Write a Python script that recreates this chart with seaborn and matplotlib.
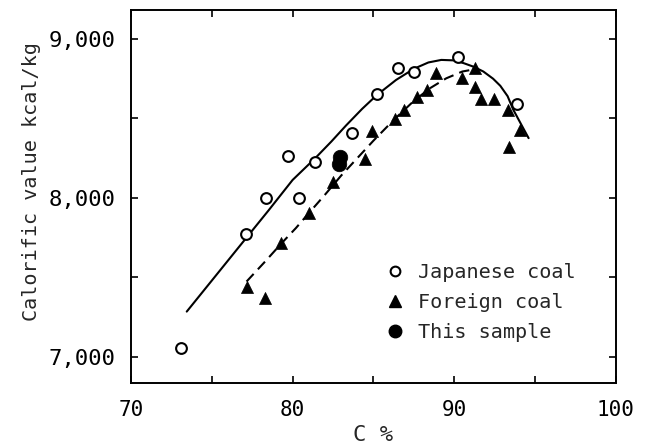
import matplotlib
matplotlib.use("Agg")
import matplotlib.pyplot as plt
import seaborn as sns
import pandas as pd
from matplotlib.ticker import FuncFormatter, MultipleLocator
from matplotlib.lines import Line2D

# Japanese coal (open circles)
jp_c = [73.1, 77.1, 78.35, 79.7, 80.4, 81.4, 83.65, 85.2, 86.5, 87.5, 90.25, 93.9]
jp_cal = [7054, 7772, 8000, 8266, 8000, 8228, 8407, 8652, 8820, 8794, 8889, 8589]

# Foreign coal (filled triangles)
fo_c = [77.15, 78.3, 79.3, 81.0, 82.5, 84.5, 84.9, 86.35, 86.9, 87.7, 88.3, 88.9,
        90.5, 91.3, 91.3, 91.65, 92.45, 93.3, 93.4, 94.05]
fo_cal = [7442, 7369, 7719, 7904, 8103, 8243, 8421, 8497, 8553, 8637, 8679, 8788,
          8753, 8816, 8700, 8623, 8623, 8553, 8323, 8428]

# This sample (filled circles)
sa_c = [82.95, 82.85]
sa_cal = [8255, 8215]

# Fitted curve for Japanese coal (solid)
jp_curve_c = [73.45, 75.0, 76.7, 78.5, 80.0, 81.4, 82.4, 83.3, 84.3, 85.2, 86.4,
              87.5, 88.4, 89.2, 90.0, 90.6, 91.2, 91.8, 92.4, 92.85, 93.3, 93.65, 94.1, 94.6]
jp_curve_cal = [7285, 7480, 7694, 7920, 8113, 8250, 8355, 8455, 8560, 8646, 8742,
                8812, 8852, 8868, 8865, 8847, 8825, 8795, 8750, 8705, 8640, 8555, 8470, 8376]

# Fitted curve for foreign coal (dashed)
fo_curve_c = [77.15, 78.3, 79.3, 80.2, 81.0, 82.0, 83.0, 84.0, 85.0, 86.3, 87.5,
              88.5, 89.5, 90.5, 91.3]
fo_curve_cal = [7474, 7600, 7713, 7810, 7904, 8020, 8140, 8250, 8360, 8495, 8610,
                8690, 8752, 8795, 8810]

sns.set_theme(style="ticks")
plt.rcParams["font.family"] = ["DejaVu Sans Mono", "DejaVu Sans"]
plt.rcParams["axes.linewidth"] = 1.4

fig = plt.figure(figsize=(6.49, 4.46), dpi=100)
ax = fig.add_axes([0.2018, 0.1413, 0.7472, 0.8363])

df_jc = pd.DataFrame({"c": jp_curve_c, "cal": jp_curve_cal})
df_fc = pd.DataFrame({"c": fo_curve_c, "cal": fo_curve_cal})
sns.lineplot(data=df_jc, x="c", y="cal", sort=False, color="black", lw=1.5, ax=ax)
sns.lineplot(data=df_fc, x="c", y="cal", sort=False, color="black", lw=1.5,
             linestyle=(0, (5, 3)), ax=ax)

df_jp = pd.DataFrame({"c": jp_c, "cal": jp_cal})
df_fo = pd.DataFrame({"c": fo_c, "cal": fo_cal})
df_sa = pd.DataFrame({"c": sa_c, "cal": sa_cal})
sns.scatterplot(data=df_jp, x="c", y="cal", marker="o", s=60, facecolor="white",
                edgecolor="black", linewidth=1.5, ax=ax, zorder=3)
sns.scatterplot(data=df_fo, x="c", y="cal", marker="^", s=75, color="black",
                edgecolor="black", linewidth=0.5, ax=ax, zorder=3)
sns.scatterplot(data=df_sa, x="c", y="cal", marker="o", s=110, color="black",
                edgecolor="black", linewidth=0.5, ax=ax, zorder=4)

ax.set_xlim(70, 100)
ax.set_ylim(6836, 9182)
ax.xaxis.set_major_locator(MultipleLocator(10))
ax.xaxis.set_minor_locator(MultipleLocator(5))
ax.yaxis.set_major_locator(MultipleLocator(1000))
ax.yaxis.set_minor_locator(MultipleLocator(500))
ax.yaxis.set_major_formatter(FuncFormatter(lambda v, p: f"{int(v):,}"))
ax.tick_params(which="both", direction="in", top=True, right=True, length=5,
               width=1.2, colors="black")
ax.tick_params(axis="x", pad=12, labelsize=15)
ax.tick_params(axis="y", pad=11, labelsize=16)
ax.set_xlabel("C %", fontsize=16, labelpad=4)
ax.set_ylabel("Calorific value kcal/kg", fontsize=14.5)
ax.yaxis.set_label_coords(-0.186, 0.54)
for sp in ax.spines.values():
    sp.set_color("black")

handles = [
    Line2D([], [], marker="o", ls="none", mfc="white", mec="black", mew=1.5, ms=7),
    Line2D([], [], marker="^", ls="none", mfc="black", mec="black", ms=8),
    Line2D([], [], marker="o", ls="none", mfc="black", mec="black", ms=9),
]
ax.legend(handles, ["Japanese coal", "Foreign coal", "This sample"],
          loc="center left", bbox_to_anchor=(0.524, 0.216), frameon=False,
          fontsize=14.5, handletextpad=0.65, labelspacing=0.55, handlelength=1.0,
          borderpad=0, borderaxespad=0)

fig.savefig("out.png", dpi=100)
